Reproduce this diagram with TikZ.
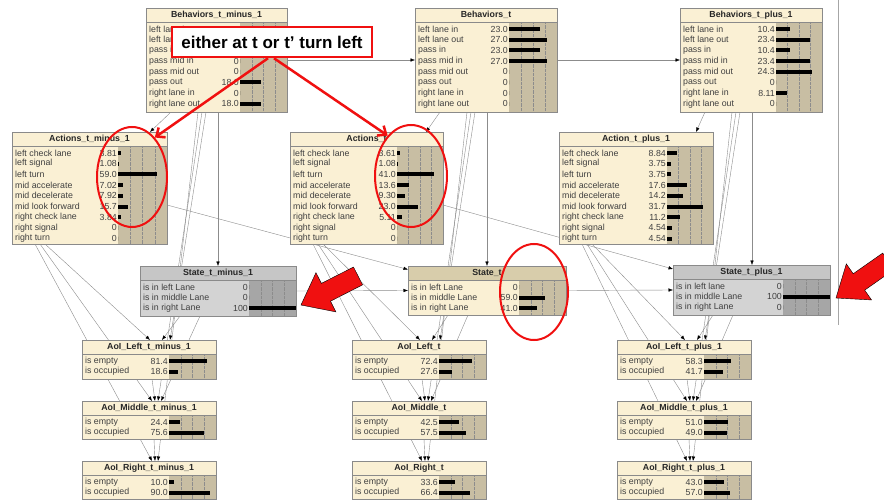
\documentclass[tikz,border=0pt]{standalone}
\usepackage{fontspec}
\setmainfont{Liberation Sans}
\usetikzlibrary{arrows.meta,fit,backgrounds,shapes.geometric}
\definecolor{nodeyel}{HTML}{FAF0D4}
\definecolor{bartan}{HTML}{C8BEA3}
\definecolor{headtan}{HTML}{D8CDAB}
\definecolor{greyhead}{HTML}{C6C6C6}
\definecolor{greybody}{HTML}{D3D3D3}
\definecolor{greybar}{HTML}{A6A6A6}
\definecolor{framegrey}{HTML}{8A8A8A}
\definecolor{textgrey}{HTML}{404040}
\definecolor{markred}{HTML}{F01010}
% belief box: [style] name, left, top, right, bottom, bar start, title, rows label/value/bar
\newcommand{\bnode}[9][]{%
  \begin{scope}[#1]
    \fill[nbody] (#3,#4) rectangle (#5,#6);
    \fill[nhead] (#3,#4) rectangle (#5,#4+14);
    \fill[nbar] (#7,#4+14) rectangle (#5,#6);
    \foreach \f in {0.25,0.5,0.75}
      \draw[ngrid] ({#7+\f*(#5-#7)},#4+14) -- ({#7+\f*(#5-#7)},#6);
    \draw[nline] (#3,#4+14) -- (#5,#4+14);
    \node[ntitle] at ({(#3+#5)/2},#4+7) {#8};
    \foreach \lab/\val/\len [count=\i] in {#9} {
      \pgfmathsetmacro\yy{#4+21+(\i-1)*10.7}
      \node[nrow,anchor=west] at (#3+2,\yy) {\lab};
      \node[nrow,anchor=east] at (#7,\yy) {\val};
      \fill (#7,\yy-2) rectangle (#7+\len,\yy+2);
    }
    \node[nframe,fit={(#3,#4) (#5,#6)}] (#2) {};
  \end{scope}}

\begin{document}
\begin{tikzpicture}[x=1pt,y=-1pt,
  nbody/.style={fill=nodeyel}, nhead/.style={fill=nodeyel}, nbar/.style={fill=bartan},
  ngrid/.style={draw=black!45,densely dotted,line width=0.3pt},
  nline/.style={draw=framegrey,line width=0.5pt},
  nframe/.style={draw=framegrey,line width=0.6pt,inner sep=0pt,outer sep=0pt},
  ntitle/.style={font=\bfseries\fontsize{8.8}{9}\selectfont,text=black!85,inner sep=0pt},
  nrow/.style={font=\fontsize{8.8}{9}\selectfont,text=textgrey,inner sep=1pt},
  greynode/.style={nbody/.style={fill=greybody},nhead/.style={fill=greyhead},nbar/.style={fill=greybar}},
  tannode/.style={nhead/.style={fill=headtan}},
  arc/.style={draw=black!45,line width=0.4pt,-{Latex[length=4.5pt,width=3.5pt,color=black]}},
  note/.style={draw=markred,line width=2.5pt,fill=white,minimum width=200pt,minimum height=30pt,
               inner sep=0pt,font=\bfseries\fontsize{17}{20}\selectfont},
  ring/.style={ellipse,draw=markred,line width=2pt,inner sep=0pt},
  redarr/.style={draw=markred,line width=2.5pt,-{Straight Barb[length=7pt,width=12pt]}},
  blockarr/.style={fill=markred,draw=black,line width=0.4pt}]

\useasboundingbox (0,0) rectangle (884,500);
\begin{scope}[on background layer]
  \fill[white] (0,0) rectangle (884,500);
\end{scope}

% time slice t-1, t, t+1
\bnode{bm}{146}{8}{287}{112}{240}{Behaviors\_t\_minus\_1}{left lane in//0, left lane out//0, pass in//0,
  pass mid in/0/0, pass mid out/0/0, pass out/18.0/21, right lane in/0/0, right lane out/18.0/21}
\bnode{bt}{415}{8}{557}{112}{509}{Behaviors\_t}{left lane in/23.0/31, left lane out/27.0/38, pass in/23.0/31,
  pass mid in/27.0/38, pass mid out/0/0, pass out/0/0, right lane in/0/0, right lane out/0/0}
\bnode{bp}{680}{8}{822}{112}{776}{Behaviors\_t\_plus\_1}{left lane in/10.4/14, left lane out/23.4/34, pass in/10.4/14,
  pass mid in/23.4/34, pass mid out/24.3/36, pass out/0/0, right lane in/8.11/11, right lane out/0/0}

\bnode{am}{12}{132}{167}{244}{118}{Actions\_t\_minus\_1}{left check lane/3.81/2.5, left signal/1.08/1, left turn/59.0/39,
  mid accelerate/7.02/4.6, mid decelerate/7.92/5.2, mid look forward/15.7/10.4, right check lane/3.84/2.5,
  right signal/0/0, right turn/0/0}
\bnode{at}{290}{132}{443}{244}{397}{Actions\_t}{left check lane/3.61/3.2, left signal/1.08/1, left turn/41.0/37,
  mid accelerate/13.6/12, mid decelerate/9.30/8.4, mid look forward/23.0/20.7, right check lane/5.11/4.6,
  right signal/0/0, right turn/0/0}
\bnode{ap}{559}{132}{713}{244}{667}{Action\_t\_plus\_1}{left check lane/8.84/10, left signal/3.75/4.3, left turn/3.75/4.3,
  mid accelerate/17.6/20, mid decelerate/14.2/16, mid look forward/31.7/36, right check lane/11.2/12.8,
  right signal/4.54/5.2, right turn/4.54/5.2}

\bnode[greynode]{sm}{140}{266}{296}{316}{249}{State\_t\_minus\_1}{is in left Lane/0/0, is in middle Lane/0/0, is in right Lane/100/47}
\bnode[tannode]{st}{408}{266}{566}{315}{519}{State\_t}{is in left Lane/0/0, is in middle Lane/59.0/26, is in right Lane/41.0/18}
\bnode[greynode]{sp}{673}{265}{830}{315}{783}{State\_t\_plus\_1}{is in left lane/0/0, is in middle Lane/100/47, is in right Lane/0/0}

\bnode{lm}{82}{340}{216}{379}{169}{AoI\_Left\_t\_minus\_1}{is empty/81.4/37.5, is occupied/18.6/8.6}
\bnode{cm}{82}{401}{216}{439}{169}{AoI\_Middle\_t\_minus\_1}{is empty/24.4/11, is occupied/75.6/35}
\bnode{rm}{82}{461}{216}{499}{169}{AoI\_Right\_t\_minus\_1}{is empty/10.0/4.6, is occupied/90.0/41}
\bnode{lt}{352}{340}{486}{379}{439}{AoI\_Left\_t}{is empty/72.4/33, is occupied/27.6/12.7}
\bnode{ct}{352}{401}{486}{439}{439}{AoI\_Middle\_t}{is empty/42.5/19.5, is occupied/57.5/26.5}
\bnode{rt}{352}{461}{486}{499}{439}{AoI\_Right\_t}{is empty/33.6/15.5, is occupied/66.4/30.5}
\bnode{lp}{617}{340}{751}{379}{704}{AoI\_Left\_t\_plus\_1}{is empty/58.3/27, is occupied/41.7/19}
\bnode{cp}{617}{401}{751}{439}{704}{AoI\_Middle\_t\_plus\_1}{is empty/51.0/23.5, is occupied/49.0/22.5}
\bnode{rp}{617}{461}{751}{499}{704}{AoI\_Right\_t\_plus\_1}{is empty/43.0/20, is occupied/57.0/26}

\begin{scope}[on background layer]
  \draw[arc] (bm.east) -- (bt.west);
  \draw[arc] (bt.east) -- (bp.west);
  \draw[arc] (sm.east) -- (st.west);
  \draw[arc] (st.east) -- (sp.west);
  \draw[arc] ([yshift=-17pt]am.east) -- ([yshift=21pt]st.west);
  \draw[arc] ([yshift=-17pt]at.east) -- ([yshift=21pt]sp.west);
  \foreach \s in {m,t,p} {
    \draw[arc] ([xshift=25pt]b\s.south west) -- ([xshift=-17pt]a\s.north east);
    \coordinate (v\s) at ([xshift=72pt]b\s.south west);
    \draw[arc] (v\s) -- (v\s |- s\s.north);
    \draw[arc] ([xshift=33pt]a\s.south west) -- ([xshift=68pt]l\s.north west);
    \draw[arc] ([xshift=60pt]b\s.south west) -- ([xshift=88pt]l\s.north west);
    \draw[arc] ([xshift=40pt]s\s.south west) -- ([xshift=80pt]l\s.north west);
    \draw[arc] ([xshift=28pt]a\s.south west) -- ([xshift=70pt]c\s.north west);
    \draw[arc] ([xshift=56pt]b\s.south west) -- ([xshift=76pt]c\s.north west);
    \draw[arc] ([xshift=60pt]s\s.south west) -- ([xshift=79pt]c\s.north west);
    \draw[arc] ([xshift=70pt]l\s.south west) -- ([xshift=73pt]c\s.north west);
    \draw[arc] ([xshift=23pt]a\s.south west) -- ([xshift=70pt]r\s.north west);
    \draw[arc] ([xshift=52pt]b\s.south west) -- ([xshift=76pt]r\s.north west);
    \draw[arc] ([xshift=72pt]c\s.south west) -- ([xshift=73pt]r\s.north west);
  }
\end{scope}

\draw[black!35,line width=0.6pt] (838,0) -- (838,325);

% annotations
\node[ring,minimum width=70pt,minimum height=100pt] (elm) at (132,177) {};
\node[ring,minimum width=72pt,minimum height=102pt] (elt) at (411,176) {};
\node[ring,minimum width=68pt,minimum height=96pt] (els) at (534,292) {};
\node[note] (msg) at (272,42) {either at t or t' turn left};
\draw[redarr] ([xshift=-4pt]msg.south) -- (elm.60);
\draw[redarr] ([xshift=2pt]msg.south) -- (elt.120);
\foreach \px/\py/\rot in {301/305/207, 836/298/215}
  \filldraw[blockarr,shift={(\px,\py)},rotate=\rot]
    (0,0) -- (-28,22) -- (-28,10) -- (-64,10) -- (-64,-10) -- (-28,-10) -- (-28,-22) -- cycle;
\end{tikzpicture}
\end{document}
